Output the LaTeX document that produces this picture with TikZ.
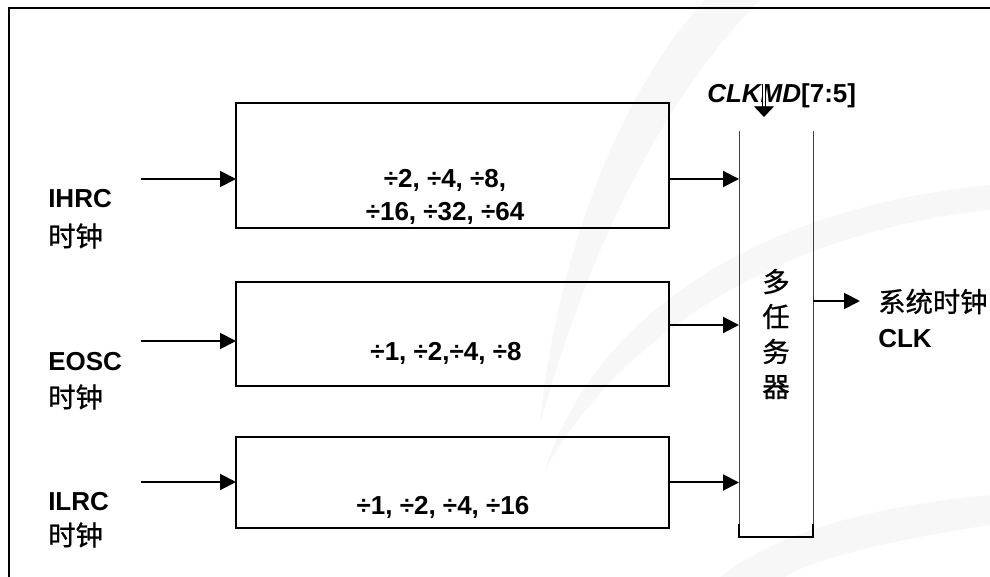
\documentclass[tikz,border=0pt]{standalone}
\usepackage{fontspec}
\setmainfont{Liberation Sans}
\newfontfamily\cjk[FakeBold=0.8]{Noto Sans CJK SC}
\usetikzlibrary{calc}
\usetikzlibrary{arrows.meta}

\begin{document}
\begin{tikzpicture}[x=0.75pt,y=-0.75pt,
		font=\fontsize{19.5}{24.75}\selectfont\bfseries,
		sig/.style={line width=1.5pt,-{Triangle[length=12pt,width=12pt]}},
		divbox/.style={draw,line width=1.5pt,minimum width=324.75pt,inner sep=0pt,outer sep=0pt},
		cn/.style={font=\fontsize{20.5}{26.25}\selectfont\cjk,inner sep=0pt},
		lbl/.style={anchor=west,inner sep=0pt},
		swoosh/.style={fill=black!3,draw=none}]
		\useasboundingbox (0,0) rectangle (990,577);
		
		\fill[swoosh] (540,425) .. controls (555,260) and (620,90) .. (705,0) -- (760,0) .. controls (660,100) and (585,260) .. (540,425) -- cycle;
		\fill[swoosh] (545,470) .. controls (600,300) and (780,205) .. (990,185) -- (990,210) .. controls (800,230) and (630,320) .. (545,470) -- cycle;
		\fill[swoosh] (720,577) .. controls (780,530) and (880,505) .. (990,495) -- (990,525) .. controls (890,540) and (810,560) .. (785,577) -- cycle;
		
		\draw[line width=2pt] (9,577) -- (9,8) -- (990,8);
		
		\node[divbox,minimum height=93.75pt] (DA) at (452.5,165.5) {};
		\node[divbox,minimum height=78pt] (DB) at (452.5,334) {};
		\node[divbox,minimum height=68.25pt] (DC) at (452.5,482.5) {};
		\node[align=center] (TA) at (445,196.5) {÷2, ÷4, ÷8,\\÷16, ÷32, ÷64};
		\node (TB) at (446,353) {÷1, ÷2,÷4, ÷8};
		\node (TC) at (443,507) {÷1, ÷2, ÷4, ÷16};
		
		\node[lbl] (IH) at (48,199) {IHRC};
		\node[lbl,cn] (IHz) at (48,236) {时钟};
		\node[lbl] (EO) at (48,362) {EOSC};
		\node[lbl,cn] (EOz) at (48,397) {时钟};
		\node[lbl] (IL) at (48,502) {ILRC};
		\node[lbl,cn] (ILz) at (48,535) {时钟};
		
		\node[cn,align=center,minimum width=55.5pt,minimum height=304.5pt,outer sep=0pt] (MX) at (776,334) {多\\任\\务\\器};
		\draw[line width=0.7pt,black!75] (MX.north west) -- (MX.south west) (MX.north east) -- (MX.south east);
		\draw[line width=1.5pt] ($(MX.south west)+(0,-13)$) -- (MX.south west) -- (MX.south east) -- ($(MX.south east)+(0,-13)$);
		
		\node[anchor=base west,inner sep=0pt] (SEL) at (707,103) {\itshape CLKMD\upshape[7:5]};
		\coordinate (sT) at (764,84);
		\coordinate (sB) at (764,117);
		\draw[double,line width=0.6pt,double distance=1.5pt,-{Triangle[length=8pt,width=15pt]}] (sT) -- (sB);
		
		\coordinate (iA) at (141,179);
		\coordinate (iB) at (141,341);
		\coordinate (iC) at (141,482);
		\coordinate (oB) at (669,325);
		\draw[sig] (iA) -- (iA -| DA.west);
		\draw[sig] (iB) -- (iB -| DB.west);
		\draw[sig] (iC) -- (iC -| DC.west);
		\draw[sig] (DA.east |- iA) -- (iA -| MX.west);
		\draw[sig] (oB) -- (oB -| MX.west);
		\draw[sig] (DC.east) -- (DC.east -| MX.west);
		
		\coordinate (CK) at (860,301);
		\draw[sig] (CK -| MX.east) -- (CK);
		\node[lbl,cn] (SYS) at (878,301.5) {系统时钟};
		\node[lbl] (CLK) at (878,338.5) {CLK};
	\end{tikzpicture}
\end{document}
